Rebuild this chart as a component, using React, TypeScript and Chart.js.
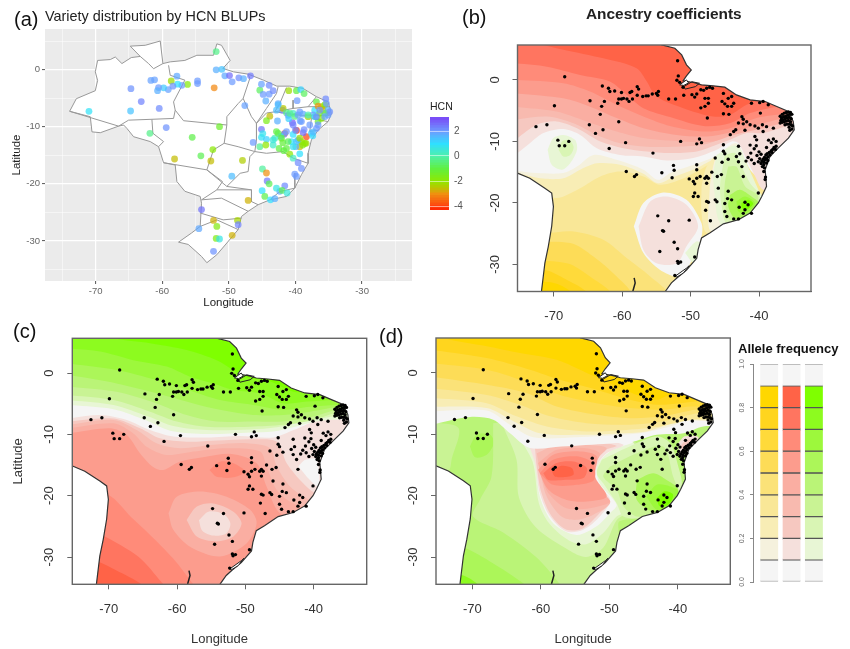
import React, { useEffect, useRef } from "react";
import { Chart, registerables } from "chart.js";
Chart.register(...registerables);

type P = [number, number];

// ---------- palette (contour levels .1-.2 ... .8-.9) ----------
const W = "#F5F5F5";
const Y = ["", "#F5F1DD", "#F8EDB5", "#F9E797", "#FBE278", "#FDDC57", "#FFDA3A", "#FFD51E", "#FFD700"];
const R = ["", "#F5E0DC", "#F6C8C0", "#F8BAAF", "#FAAEA2", "#FC9C8D", "#FF8B79", "#FF7560", "#FF6347"];
const G = ["", "#E8F6D5", "#D9F5B4", "#C9F394", "#BAF477", "#ACF659", "#9DF83C", "#8DFB1F", "#7FFF00"];

// ---------- ticks ----------
const lonTicks = [-70, -60, -50, -40];
const latTicks = [0, -10, -20, -30];
const gridLonTicks = [-75, -70, -65, -60, -55, -50, -45, -40, -35, -30, -25];
const gridLatTicks = [5, 0, -5, -10, -15, -20, -25, -30, -35];
const alleleTicks = [0, 0.2, 0.4, 0.6, 0.8, 1];
const hcnTicks = [-4, -2, 0, 2];

// ---------- map lines (lon, lat) ----------
const eastCoast: P[] = [[-55.5,6.6],[-54.2,5.68],[-52.3,5.14],[-51.3,4.06],[-50.6,2.44],[-49.9,1.62],[-50.6,0.65],[-51.1,-0.16],[-49.6,-0.43],[-48.4,-0.81],[-46.7,-0.97],[-45,-1.19],[-43.3,-2.44],[-41.3,-3.25],[-39.1,-3.52],[-37.4,-4.33],[-35.7,-5.14],[-35,-6.77],[-34.85,-8.12],[-35.7,-9.47],[-37.2,-11.1],[-38.4,-12.45],[-39.1,-14.6],[-38.9,-17.3],[-39.6,-18.95],[-40.1,-20],[-41.3,-21.66],[-43,-22.74],[-45.2,-23.4],[-47.2,-24.9],[-48.4,-25.7],[-48.9,-27.6],[-49.1,-29],[-50.6,-30.9],[-52,-32.2],[-52.8,-33],[-53.7,-34.4],[-54.3,-36],[-28,-36],[-28,8],[-55.5,8],[-55.5,6.6]];
const westCoast: P[] = [[-78,-14],[-75.3,-15.16],[-73.5,-16],[-71.3,-17.6],[-70.3,-18.4],[-70.05,-20.6],[-70.3,-23.8],[-70.8,-27.1],[-71.3,-29.8],[-71.8,-34.4],[-72,-37],[-78,-37],[-78,-14]];
const amazonMouth: P[] = [[-51.6,-0.8],[-50.6,0],[-50.3,-0.5],[-51,-0.9],[-51.6,-0.8]];
const marajo: P[] = [[-51,-1.1],[-49.8,-0.3],[-48.7,-0.55],[-49.3,-1.1],[-50.8,-1.5],[-51,-1.1]];
const patos: P[] = [[-52.3,-31.95],[-50.6,-30.6],[-50.2,-30.2],[-51.05,-31.4],[-52,-32.05],[-52.3,-31.95]];
const uruguayRiver: P[] = [[-58.25,-32.2],[-58.1,-33],[-58.45,-34.4]];

const brazil: P[] = [[-73.9,-7.3],[-72.9,-5.1],[-70.05,-3.7],[-69.7,-1.9],[-70.05,-0.4],[-69.7,1.6],[-67.8,1.75],[-67.05,2.2],[-66.05,1.05],[-64.65,2.1],[-63.3,2.3],[-64.8,4.1],[-62.55,4.25],[-60.3,5],[-59.9,1.05],[-58.8,1.35],[-56.6,1.6],[-54.8,2.5],[-52.3,2.5],[-51.8,4.5],[-51.1,4.25],[-49.8,1.6],[-50.9,0.2],[-49.3,-0.4],[-47.1,-0.8],[-44.8,-1.85],[-42.8,-2.9],[-40.85,-2.9],[-38.85,-3.3],[-36.85,-4.75],[-35.1,-5.65],[-34.6,-7.7],[-35.1,-9.1],[-36.6,-10.6],[-37.6,-12.3],[-38.1,-14.65],[-38.1,-16.4],[-39.1,-18.4],[-40.1,-20.75],[-41.35,-22.2],[-43.85,-22.8],[-45.6,-23.65],[-47.1,-24.8],[-48.1,-25.7],[-48.6,-28],[-50.3,-30.35],[-51.8,-32.4],[-53.3,-33.8],[-54.1,-32.7],[-56.1,-30.6],[-57.55,-30.2],[-55.6,-28.6],[-54.3,-27.45],[-54.1,-23.4],[-54.3,-22.2],[-56.6,-21.3],[-57.8,-19.6],[-58.05,-16.7],[-59.8,-16.3],[-60.55,-13.5],[-61.8,-12.6],[-64.3,-11.75],[-65.3,-10.3],[-65.8,-9.7],[-66.55,-9.9],[-69.3,-11.05],[-70.55,-10.9],[-70.8,-8.25],[-73.9,-7.3]];
const stateLines: P[][] = [
  [[-73.9,-7.3],[-66.55,-9.9]],
  [[-66.55,-9.9],[-65.05,-8.85],[-61.55,-8.7],[-58.3,-8.55],[-58.05,-7.1]],
  [[-61.55,-8.7],[-61.4,-11.15],[-59.8,-12.6],[-60.55,-13.5]],
  [[-58.05,-7.1],[-58.3,-5.65],[-56.6,-1.85],[-58.8,-1],[-59.05,0.75]],
  [[-63.3,2.3],[-62.05,1.05],[-61.3,0.15],[-59.9,1.05]],
  [[-58.05,-7.1],[-56.8,-8.95],[-50.3,-9.7]],
  [[-50.3,-9.7],[-50.3,-8.25],[-48.6,-5.95],[-47.85,-5.05],[-46.85,-1.55],[-47.1,-0.8]],
  [[-50.3,-9.7],[-50.7,-12.9],[-48.6,-13.5],[-46.1,-14.35]],
  [[-47.85,-5.05],[-46.6,-8.25],[-45.85,-9.4],[-45.85,-12.3],[-46.1,-14.35]],
  [[-45.85,-9.4],[-44.35,-6.8],[-42.85,-4.2],[-42.6,-3]],
  [[-41.35,-3.15],[-42.35,-5.95],[-43.1,-7.4],[-44.35,-7.6],[-45.85,-9.4]],
  [[-43.1,-7.4],[-40.35,-6.8],[-38.1,-6.5],[-36.85,-4.75]],
  [[-40.35,-5.35],[-40.35,-6.8]],
  [[-38.1,-6.5],[-34.85,-6.5]],
  [[-43.1,-7.4],[-39.35,-8],[-34.85,-8]],
  [[-37.6,-8.55],[-35.1,-9.1]],
  [[-37.6,-8.55],[-37.85,-10.85],[-36.6,-10.6]],
  [[-46.1,-14.35],[-44.35,-14.65],[-41.85,-14.35],[-40.35,-15.5],[-38.1,-16.4]],
  [[-59.8,-16.3],[-53.3,-17.55],[-52.3,-14.05],[-50.7,-12.9]],
  [[-53.3,-17.55],[-50.3,-20.45],[-48.3,-18.15],[-47.1,-17.85],[-46.85,-15.25],[-46.1,-14.35]],
  [[-53.3,-17.55],[-50.95,-19.6],[-51.8,-21.05],[-54.1,-22.8]],
  [[-51.8,-21.05],[-46.6,-21.05],[-46.6,-23.1],[-45.6,-23.65]],
  [[-50.3,-20.45],[-46.6,-21.05]],
  [[-54.1,-22.8],[-51.1,-22.5],[-47.1,-24.8]],
  [[-54.3,-25.1],[-50.85,-26.3],[-48.1,-26]],
  [[-54.3,-27.45],[-51.8,-26.3],[-48.6,-28]],
  [[-40.1,-18.15],[-40.1,-20.75]],
  [[-43.85,-22.8],[-42.35,-21.35],[-40.1,-20.75]],
];

// ---------- panel (a): lon, lat, HCN BLUP ----------
const hcnPoints: [number, number, number][] = [
[-51.9,3.15,-0.3],[-51.9,-0.05,1.7],[-51.05,0.05,1.4],[-50.6,-1.1,1.8],[-49.9,-1.05,2.6],[-49.5,-2.15,2],[-48.5,-1.45,2.2],[-47.8,-1.6,1.7],[-46.75,-1.1,2.4],[-52.2,-3.2,-3.1],[-54.7,-2,2],[-54.7,-2.45,2],[-56.2,-2.6,-1.8],[-57.05,-2.75,2],[-57.8,-1.15,1.8],[-57.7,-2.55,1],[-58.65,-2,-2.2],[-58.4,-2.9,2.1],[-59.1,-3.5,1.9],[-59.8,-3.2,1.3],[-60.55,-3.15,2],[-60.7,-3.7,1.7],[-61.7,-1.9,1.9],[-61.15,-1.8,1.9],[-64.7,-3.35,2.1],[-63.15,-5.6,2.3],[-64.75,-7.25,1.4],[-60.45,-6.8,2.2],[-71,-7.3,0.9],[-59.4,-10.15,2.1],[-61.85,-11.15,-0.3],[-55.5,-11.85,-0.9],[-51.4,-10,-1.3],[-52.4,-14,-1.9],[-54.2,-15.1,-0.8],[-58.15,-15.65,-2.6],[-52.7,-16,-2.6],[-47.95,-15.9,-2.4],[-49.55,-18.65,1.5],[-47.6,-6.3,1.9],[-45.35,-3.6,-0.7],[-45.1,-2.55,1.9],[-43.95,-2.75,2.2],[-44.85,-4.35,2],[-43.95,-4.3,2],[-43.35,-3.7,2.2],[-44.45,-5.5,1.7],[-41,-3.7,-2.2],[-39.85,-3.7,-1],[-39.2,-3.5,1.2],[-38.7,-4.2,-0.7],[-39.75,-5.45,2],[-42.6,-5.95,1.8],[-41.95,-7.1,2.3],[-42.85,-7.1,1.5],[-41.85,-6.8,-2.5],[-43.85,-8.15,-2.6],[-44.35,-8.95,-1.6],[-42.7,-9,1.7],[-41.35,-7.55,-0.3],[-40.35,-7.65,0.3],[-39.35,-7.4,2],[-38.85,-7.8,1.8],[-40.45,-9.3,2.8],[-41.1,-8,1.9],[-45.1,-10.45,2.5],[-45.1,-11.85,0.9],[-44.35,-12.2,1.2],[-46.35,-12.75,2],[-45.35,-13.5,-0.2],[-44.45,-13.2,-2],[-42.85,-10.85,-1],[-43.1,-12,0.2],[-43.35,-13.2,0.4],[-42.45,-13.8,-1],[-41.75,-14.2,-1],[-41.6,-11.15,-3],[-41.7,-11.3,2.3],[-40.85,-14.8,-1.9],[-40.35,-15.5,0.3],[-39.85,-10.65,-4.2],[-38.35,-11.75,-3.9],[-38.85,-11.05,2.6],[-40.35,-11.35,1],[-40.6,-12.6,1],[-39.1,-12.6,-2],[-39.35,-14.75,1],[-39.35,-13.5,-2.6],[-39.95,-13.5,1.7],[-37.85,-9.7,2],[-36.85,-10.3,2],[-37.6,-11.15,1.2],[-39.6,-16.3,2.2],[-39.1,-17.3,2.1],[-40.1,-18.3,2],[-39.85,-18.7,2],[-41.6,-20.35,2.2],[-42.35,-21.3,1.8],[-44.95,-17.4,-0.1],[-44.35,-18.1,-3],[-44.25,-19.5,2.4],[-43.95,-20,-0.8],[-42.85,-20.75,0.7],[-42,-21.15,-0.8],[-41.25,-21.6,0.6],[-45,-21.2,1],[-44.6,-22.2,-0.9],[-43.75,-22.8,1],[-43.1,-22.6,1.7],[-47.1,-22.9,-2.7],[-54.1,-24.5,2.5],[-52.3,-26.4,-2.7],[-51.8,-27.45,-1.7],[-54.5,-27.85,1.8],[-48.7,-26.4,-2.3],[-48.6,-27.15,2.3],[-49.5,-29,-2.7],[-51.9,-29.55,-1.7],[-51.4,-29.65,0.7],[-52.3,-31.8,2.1],[-36.85,-5.65,-1],[-35.45,-5.15,2.2],[-36.1,-6.5,-2.3],[-35.6,-6.2,-1.7],[-35.1,-7.95,1.9],[-37.1,-7.1,1],[-36.35,-7.65,-1.5],[-37.35,-7.95,2],[-35.85,-7.1,-2.7],[-35.1,-7.1,1.7],[-36.6,-9.1,-1.2],[-38.1,-8.25,-2.3],[-37.1,-8.25,0.7],[-36.1,-8.55,-1.8],[-35.6,-7.65,-0.7],[-36.6,-6.4,-3],[-35.35,-5.95,2],
[-41,-8.6,1.2],[-40.1,-8.2,-0.4],[-39.3,-9,1.8],[-40,-10.6,2.2],[-38.7,-10.5,2.2],[-37.4,-11.6,1.1],[-38.4,-12.9,-2.2],[-39.6,-12.3,1.6],[-38.9,-13.2,-1.7],[-41.9,-12.8,-1.1],[-42.2,-11.7,1.1],[-44.9,-11.2,0.8],
[-42.6,-6.2,1.5],[-40.85,-7.65,-0.2],[-39.6,-7.95,1.9],[-38.1,-7.95,0.2],[-39.1,-9.1,2],[-40.35,-9.7,2.3],[-41.35,-10.85,2],[-42.1,-12,-1.2],[-41.1,-12.6,-0.8],[-39.85,-12.6,1.4],[-38.6,-12.9,-2],[-39.35,-12,-2.2],[-40.35,-13.5,0.8],[-41.35,-13.8,-1],[-43.35,-12.3,0.6],[-42.6,-11.15,-0.9],[-36.6,-9.7,2],[-37.35,-10.9,1.6],[-36.35,-7.1,2],[-36.85,-8.25,2.2],[-35.6,-8.25,1.9],[-34.85,-7.4,2.1],
];
const hcnBarLevels = [-4.32,-4.1,-3.9,-3.7,-3.5,-3.3,-3.1,-2.9,-2.7,-2.5,-2.3,-2.1,-1.9,-1.7,-1.5,-1.3,-1.1,-0.9,-0.7,-0.5,-0.3,-0.1,0.1,0.3,0.5,0.7,0.9,1.1,1.3,1.5,1.7,1.9,2.1,2.3,2.5,2.7,2.9];
const hcnStops: [number, number, number, number][] = [[-4.3,255,32,0],[-4,255,64,16],[-3,240,144,16],[-2.5,184,200,0],[-2,144,232,0],[-1,96,240,64],[0,80,240,168],[1,47,224,255],[2,110,155,255],[3.2,123,63,245]];

// ---------- sampled sites, same in (b), (c), (d) ----------
const sites: P[] = [
[-68.4,0.5],[-69.9,-4.2],[-72.6,-7.6],[-71,-7.3],[-69.4,-9.8],[-69.2,-10.7],[-68.4,-10.7],[-67.8,-10],[-64.7,-3.4],[-64.8,-7.3],[-63.9,-8.7],[-62.9,-1],[-62,-1.35],[-61.8,-1.9],[-61.1,-1.8],[-62.6,-3.5],[-63,-4.3],[-63.2,-5.6],[-62.8,-8.1],[-61.9,-11.15],[-60.5,-6.8],[-60.65,-3.8],[-60.5,-3.1],[-60.1,-3.1],[-59.8,-3],[-59.3,-3.1],[-59,-3.5],[-60.1,-2.05],[-58.85,-2.05],[-58.6,-1.9],[-58.5,-3.1],[-57.8,-1.1],[-57.6,-1.5],[-57.8,-2.5],[-57,-2.7],[-56.5,-2.6],[-56.2,-2.6],[-55.6,-2.3],[-55,-2.2],[-54.7,-1.9],[-54.8,-2.5],[-59.5,-10.2],[-59.4,-14.9],[-58.2,-15.7],[-57.9,-15.4],[-55.5,-11.9],[-54.2,-15.1],[-52.5,-13.9],[-52.4,-14.7],[-52.7,-15.9],[-51.45,-10],[-51.9,3.1],[-51.8,0.65],[-52,-0.05],[-51.6,-0.4],[-51.1,-1.2],[-51,-2.5],[-53.2,-3.1],[-52.2,-3.1],[-49.8,-2.4],[-49.4,-2.8],[-49.1,-2.3],[-48.5,-1.6],[-48.1,-1.7],[-47.65,-1.35],[-47.2,-1.2],[-46.8,-1.35],[-47.9,-3],[-47.4,-3],[-47.4,-3.8],[-47.9,-4.3],[-48.5,-4.55],[-47.55,-6.2],[-45.2,-2.2],[-45.4,-3.5],[-45,-3.9],[-44.6,-4.3],[-44,-4.3],[-43.7,-3.8],[-44.5,-3],[-44,-2.7],[-45.2,-5.5],[-44.4,-5.6],[-41.1,-3.8],[-39.9,-3.7],[-39.4,-3.5],[-38.65,-4.05],[-39.8,-5.4],
[-42.5,-6],[-42.3,-6.4],[-43,-7],[-42.3,-7.15],[-41.8,-6.8],[-41.3,-7.3],[-43.4,-8.1],[-44.2,-8.9],[-43.7,-8.4],[-42.05,-8.2],[-40.6,-7.5],[-40.1,-7.85],[-39.5,-7.3],[-38.9,-7.6],[-37.9,-7.85],[-40.6,-9.2],[-40.35,-9.75],[-39.4,-8.4],[-37.9,-9.6],[-45.2,-10.55],[-48.7,-9.6],[-49.1,-10.4],[-48.4,-10.2],
[-36.9,-5.9],[-36.6,-5.6],[-36.3,-5.4],[-36,-5.3],[-35.7,-5.2],[-35.4,-5.3],[-36.7,-6.2],[-36.4,-6],[-36.1,-5.9],[-35.8,-5.7],[-35.5,-5.6],[-35.2,-5.6],[-36.8,-6.6],[-36.5,-6.5],[-36.2,-6.3],[-35.9,-6.2],[-35.6,-6.1],[-35.3,-6.3],[-36.9,-7],[-36.6,-6.9],[-36.3,-6.8],[-36,-6.7],[-35.7,-6.6],[-35.4,-6.8],[-36.2,-7.3],[-35.9,-7.2],[-35.6,-7.2],[-35.3,-7.3],[-35.1,-7.5],[-35.6,-7.7],[-35.2,-8],[-35.5,-8.2],
[-37.5,-10.8],[-37.8,-11],[-38,-11.3],[-37.6,-11.3],[-38.2,-11.5],[-38.5,-11.8],[-38.1,-11.8],[-38.8,-12],[-38.4,-12.2],[-39,-12.2],[-38.7,-12.5],[-39.2,-12.6],[-38.9,-12.8],[-39.4,-12.9],[-39.1,-13],[-38.7,-13.1],[-39.6,-13.2],[-39.3,-13.4],[-38.9,-13.5],[-39.7,-13.6],[-39.3,-13.8],[-39.5,-14.1],[-39.2,-14.3],[-39.7,-12.1],[-40,-11.7],[-40.3,-12.3],[-39.9,-12.8],[-40.1,-13.3],[-39.3,-14.9],[-39.05,-15.8],[-40.4,-10.7],[-40.7,-11.2],[-41.2,-11.9],[-41.6,-12.6],[-41.1,-13],[-40.7,-13.6],[-41.9,-13.2],[-41.3,-10.6],[-38.6,-9.8],[-38.2,-10.2],[-37.5,-10],[-38.9,-11],
[-45.2,-11.6],[-45,-12],[-44.5,-12.9],[-45.4,-13.4],[-43,-10.8],[-42.8,-12],[-43.3,-12.45],[-43,-13.3],[-42.5,-14.1],[-42.3,-15.7],[-46.4,-12.7],[-49.1,-13.8],[-49.1,-14.6],[-45.5,-15.4],[-46.1,-15.7],[-46.9,-15],[-47.65,-15.7],[-47.9,-16],[-47.4,-16],[-47.65,-16.8],[-48.6,-15.7],[-49.1,-16],[-49.6,-16.5],[-50.2,-16.1],[-49.4,-16.9],[-45.95,-17.6],[-44.5,-18.1],[-44.6,-19.3],[-44,-19.5],[-45,-20.1],[-45,-21.4],[-44.7,-22.2],[-43.7,-22.6],[-43,-22.6],[-42.9,-20.7],[-42.05,-19.9],[-41.6,-20.3],[-42.3,-21.7],[-42.05,-21.1],[-41.1,-21.7],[-40.1,-18.4],[-39.1,-16.2],[-49.4,-18.4],[-49.6,-18.95],[-48.9,-18.95],[-47.65,-19.75],[-47.4,-19.9],[-46.4,-19.5],[-46.15,-19.8],[-47.8,-21.2],[-47.1,-22.9],[-50.2,-22.8],[-54.8,-22.1],[-53.2,-22.9],[-54.1,-24.5],[-53.95,-24.6],[-52.4,-26.4],[-51.9,-27.45],[-54.5,-27.9],[-51.9,-29.5],[-51.8,-29.8],[-51.45,-29.6],[-52.3,-31.8],[-49.4,-28.8],
];

// ---------- allele-frequency legend ----------
const alleleEdges = [0, 0.1, 0.2, 0.3, 0.4, 0.5, 0.6, 0.7, 0.8, 0.9, 1];
const alleleColumns = [1, 2, 3];

// ---------- contour helpers ----------
const closeTop = (l: P[]): P[] => [...l, [-25, 12], [-82, 12]];
const closeBottom = (l: P[]): P[] => { const e = l[l.length - 1]; return [...l, [e[0], -42], [-82, -42]]; };
const fullBox: P[] = [[-82, 12], [-25, 12], [-25, -42], [-82, -42]];

// ---------- contour bands, panel (b) ----------
const bandsB: [string, P[]][] = [
  [Y[3], fullBox],
  [Y[2], closeTop([[-75.9,-15.7],[-72.5,-17.85],[-69.6,-19.2],[-66.15,-17.6],[-63.2,-15.7],[-60.3,-14.9],[-56.9,-15.7],[-54.5,-17.05],[-51.55,-16.25],[-48.6,-14.6],[-45.7,-13],[-30,-13]])],
  [Y[1], closeTop([[-75.9,-14.9],[-72,-16],[-68.6,-16],[-66.15,-14.6],[-63.7,-13.55],[-60.3,-13.8],[-56.9,-15.25],[-54.75,-16.8],[-52.5,-15.8],[-49.1,-14.35],[-46.2,-12.9],[-30,-13]])],
  [Y[2], [[-48.4,-17.3],[-47.65,-14.1],[-46.2,-12.45],[-45.2,-17.3],[-44.7,-23.8],[-47.65,-24.9],[-48.4,-21.65]]],
  [Y[1], [[-47.2,-17.3],[-46.45,-13],[-45.7,-12.45],[-45.2,-17.3],[-44.7,-23.8],[-47.2,-24.4]]],
  [Y[4], closeBottom([[-75.9,-24.4],[-71.5,-24.9],[-67.1,-24.65],[-62.75,-26],[-59.3,-29],[-55.9,-31.95],[-53,-35.2]])],
  [Y[5], closeBottom([[-75.9,-26.5],[-67.6,-26.5],[-64.2,-28.7],[-60.8,-31.95],[-58.4,-35.2]])],
  [Y[6], closeBottom([[-75.9,-29.25],[-68.1,-29.8],[-64.7,-31.95],[-61.3,-35.2]])],
  [Y[7], closeBottom([[-75.9,-31.4],[-71.5,-30.85],[-68.6,-32.2],[-64.7,-35.2]])],
  [Y[8], closeBottom([[-75.9,-33],[-70,-33],[-67,-35.2]])],
  [W, closeTop([[-75.9,-14.75],[-72.5,-15.15],[-68.6,-15.15],[-66.6,-14.1],[-64.2,-12.2],[-60.8,-13],[-56.9,-14.6],[-54.75,-16.25],[-52.8,-15.05],[-49.1,-13.65],[-46.2,-12.35],[-43.3,-10.3],[-41,-15],[-30,-25]])],
  [R[1], closeTop([[-75.9,-12.45],[-73.5,-10.3],[-71.5,-8.65],[-68.6,-8],[-66.15,-8.95],[-63.7,-11.1],[-60.3,-12.2],[-56.9,-12.45],[-53.5,-13.1],[-49.6,-12.7],[-46.2,-11.35],[-44,-10],[-43,-10.3],[-42,-12.45],[-40.55,-15.7],[-39.4,-17.85],[-34.5,-19.5],[-29.6,-3]])],
  [R[2], closeTop([[-75.9,-10],[-72.5,-7.3],[-69.6,-6.75],[-66.6,-7.85],[-63.2,-10],[-59.8,-11.1],[-56.4,-11.65],[-53,-11.9],[-49.1,-11.65],[-46.2,-10.55],[-44.25,-9.75],[-41.8,-8.65],[-39.4,-8.65],[-34.5,-7],[-29.6,-6]])],
  [R[3], closeTop([[-75.9,-6.5],[-71,-5.95],[-67.1,-7.05],[-63.7,-8.95],[-60.3,-10.3],[-56.4,-10.85],[-52,-10.85],[-48.15,-10.55],[-45.2,-9.45],[-41.3,-8.1],[-36.95,-7.05],[-29.6,-6]])],
  [R[4], closeTop([[-75.9,-4.35],[-69.6,-5.15],[-65.2,-6.75],[-60.8,-8.4],[-56.9,-9.45],[-51.05,-10],[-46.7,-10],[-43.75,-8.95],[-39.4,-7.85],[-34.5,-6.5],[-29.6,-5.5]])],
  [R[5], closeTop([[-75.9,-2.15],[-68.6,-3],[-64.7,-4.35],[-60.8,-6.2],[-56.9,-7.85],[-52,-8.95],[-47.65,-9.2],[-44.25,-8.55],[-39.4,-7.05],[-34.5,-5.7],[-29.6,-5]])],
  [R[6], closeTop([[-75.9,0],[-68.6,-0.55],[-64.7,-1.9],[-60.8,-4.05],[-56.9,-5.95],[-53,-7.5],[-48.15,-8.4],[-44.25,-7.85],[-40.35,-6.2],[-35.7,-5.4],[-29.6,-4]])],
  [R[7], closeTop([[-75.9,2.7],[-71,2.15],[-66.15,0.8],[-61.8,-0.25],[-59.3,-2.45],[-56.9,-4.6],[-53,-6.05],[-48.15,-7.5],[-44.25,-7.05],[-41.3,-5.4],[-37.4,-4.35],[-29.6,-3]])],
  [R[8], closeTop([[-73,6.06],[-68.6,4.9],[-62.75,3.5],[-57.9,1.9],[-56.4,-0.25],[-55,-2.7],[-51.05,-4.6],[-46.7,-5.95],[-44.25,-5.7],[-41.8,-4.05],[-38.9,-3],[-29.6,-1]])],
  [W, [[-58.3,-23.8],[-56.9,-20],[-54,-18.3],[-50.6,-19.5],[-48.4,-23.3],[-48.4,-25.45],[-49.6,-28.7],[-50.6,-30.85],[-52,-31.95],[-54.5,-30.85],[-56.9,-28.15]]],
  [R[1], [[-57.6,-23.8],[-55.9,-19.75],[-53.5,-18.95],[-50.6,-20.3],[-48.9,-23.8],[-50.6,-27.05],[-52,-29.8],[-55,-29.8],[-56.9,-27.6]]],
  [G[1], [[-50.8,-28.15],[-49.1,-26.25],[-48.15,-27.05],[-48.6,-29.8],[-49.6,-29.8]]],
  [G[1], [[-70.9,-11.35],[-70.05,-9.45],[-68.6,-8.95],[-66.9,-9.75],[-66.6,-11.35],[-67.6,-13.55],[-68.8,-14.6],[-70.3,-13.8]]],
  [G[2], [[-69.3,-11.35],[-68.8,-10],[-67.85,-9.75],[-67.1,-10.85],[-67.6,-12.2],[-68.6,-12.45]]],
  [G[1], [[-46.2,-12.2],[-44.25,-10.85],[-43,-10.85],[-42.05,-13],[-40.1,-17.85],[-39.4,-19.5],[-40.85,-22.75],[-45.2,-23.8],[-46.1,-22.2],[-46.45,-18.95],[-46.7,-15.7]]],
  [G[2], [[-45,-12.2],[-43.5,-11.9],[-42.55,-14.1],[-41.3,-16.8],[-39.85,-18.95],[-41.3,-22.2],[-44.7,-23.3],[-45.45,-20.55],[-45.7,-17.3]]],
  [G[3], [[-44.5,-14.1],[-43.3,-14.1],[-42.05,-17.3],[-40.1,-18.95],[-41.3,-21.9],[-44.25,-22.75],[-45,-20],[-45,-16.8]]],
  [G[5], [[-44.25,-18.7],[-42.8,-17.85],[-41.1,-18.95],[-40.1,-20],[-41.55,-21.9],[-43.5,-22.5],[-44.5,-20.55]]],
  [G[6], [[-43.3,-19.75],[-42.05,-18.95],[-40.6,-20],[-41.8,-21.65],[-43,-21.4]]],
  [G[8], [[-42.55,-20],[-41.55,-19.5],[-40.85,-20.15],[-41.8,-21.1],[-42.55,-20.8]]],
];

// ---------- contour bands, panel (c) ----------
const bandsC: [string, P[]][] = [
  [R[5], fullBox],
  [R[6], closeBottom([[-76,-18],[-70,-19.9],[-66.7,-23.5],[-64.2,-26.1],[-60.5,-30.3],[-57.8,-34.2],[-56,-37]])],
  [R[7], closeBottom([[-76,-24],[-71,-26.4],[-65.6,-30],[-62.2,-34.2],[-60,-37]])],
  [R[8], closeBottom([[-76,-29],[-71.4,-30.8],[-69,-32.1],[-65.1,-34.5],[-63,-37]])],
  [R[4], [[-61.25,-22.85],[-60.05,-20.15],[-56.65,-19.3],[-52.75,-20.15],[-49.3,-22.3],[-48.35,-24.5],[-49.8,-27.75],[-53.7,-29.9],[-58.1,-28.3],[-60.55,-25.55]]],
  [R[2], [[-58.6,-23.95],[-57.1,-21.75],[-54.7,-21.25],[-51.75,-22.6],[-50.55,-24.5],[-51.75,-26.65],[-54.2,-27.45],[-57.1,-26.65]]],
  [R[1], [[-56.8,-24],[-55.4,-22.6],[-53.2,-23],[-52.2,-24.5],[-52.75,-26.1],[-54.7,-26.5],[-56.3,-25.7]]],
  [R[6], [[-55.25,-15.8],[-53.7,-14.45],[-51.75,-14.7],[-50.05,-16.05],[-51.75,-17],[-54.2,-16.9]]],
  [R[4], closeTop([[-76,-9.85],[-69.8,-9],[-67.35,-10.1],[-65.4,-13.1],[-63.5,-15.3],[-62,-15.8],[-59.7,-14.5],[-56,-13.7],[-52,-13.2],[-48.35,-14.7],[-46.9,-18.5],[-45.4,-22.3],[-43.95,-23.4],[-37.1,-24],[-30,-24]])],
  [R[3], closeTop([[-76,-9],[-69.3,-8.2],[-66.4,-9.85],[-64.45,-12],[-61.5,-13.35],[-57.6,-12.8],[-52.75,-12.25],[-47.85,-12.8],[-46.9,-15.25],[-45.4,-19.05],[-42.95,-21.25],[-37.1,-22.85],[-30,-23]])],
  [R[2], closeTop([[-76,-8.45],[-69.3,-7.65],[-65.9,-9.3],[-63,-11.45],[-59.55,-12.25],[-54.7,-11.7],[-49.8,-11.45],[-46.4,-12.25],[-45.4,-15.25],[-43.45,-18.5],[-40.55,-20.7],[-37.1,-21.75],[-30,-22]])],
  [R[1], closeTop([[-76,-7.9],[-69.3,-7.4],[-65.4,-9],[-62.5,-10.65],[-58.6,-11.2],[-54.2,-11],[-48.85,-10.8],[-45.4,-11.2],[-43.95,-14.7],[-41.5,-18],[-39.55,-19.6],[-37.1,-18.5],[-30,-18]])],
  [W, [[-42.25,-15.25],[-41.25,-14.15],[-39.55,-14.15],[-39.3,-18.5],[-40.55,-17.45]]],
  [W, closeTop([[-76,-7.4],[-71.25,-6.85],[-67.35,-7.65],[-63.95,-9.3],[-60.55,-10.35],[-55.65,-10.5],[-50.8,-10.25],[-45.9,-10.5],[-42.95,-9.3],[-39.05,-7.65],[-34.7,-7.65],[-30,-7.5]])],
  [G[1], closeTop([[-76,-5.2],[-69.3,-5.9],[-64.45,-7.75],[-61,-9.4],[-55.65,-9.95],[-49.3,-9.7],[-45.9,-9.55],[-39.55,-7.9],[-35.15,-7.4],[-30,-7]])],
  [G[2], closeTop([[-76,-4.4],[-69.3,-5.2],[-64.2,-7.1],[-60.55,-8.65],[-55.65,-9.3],[-49.3,-9.2],[-45.4,-8.85],[-39.8,-7.55],[-35.15,-6.85],[-30,-6.5]])],
  [G[3], closeTop([[-76,-3.6],[-69.3,-4.4],[-63.95,-6.3],[-60.05,-7.9],[-55.65,-8.75],[-49.3,-8.75],[-44.45,-8.45],[-40.05,-7.65],[-35.15,-6],[-30,-6]])],
  [G[4], closeTop([[-76,-2.2],[-68.85,-3.05],[-63,-4.95],[-58.6,-6.85],[-54.2,-7.9],[-48.85,-7.9],[-44.45,-7.9],[-40.05,-7.1],[-35.65,-5.75],[-30,-6]])],
  [G[5], closeTop([[-76,-0.3],[-68.85,-1.7],[-63,-3.3],[-57.6,-4.95],[-53.7,-6],[-48.85,-6.85],[-44.45,-6.85],[-40.55,-6.3],[-36.15,-5.5],[-30,-5.5]])],
  [G[6], closeTop([[-76,1.55],[-68.85,0.5],[-63,-1.15],[-57.6,-3.05],[-53.7,-4.4],[-48.85,-5.2],[-44.45,-6],[-40.55,-5.5],[-36.65,-5.2],[-30,-5]])],
  [G[7], closeTop([[-76,4],[-71.25,3.5],[-66.4,2.1],[-61.5,1.05],[-58.1,-0.6],[-54.7,-1.7],[-51.75,-2.75],[-47.85,-3.3],[-44.45,-4.95],[-41,-4.65],[-37.1,-4.4],[-30,-4]])],
  [G[8], closeTop([[-72,7],[-69.3,5.65],[-63.95,4.85],[-58.6,3.75],[-54.2,2.1],[-51.75,0.5],[-49.55,-0.85],[-46.9,-1.15],[-42.95,-3.05],[-39.05,-3.05],[-37.1,-3.85],[-30,-3]])],
];

// ---------- contour bands, panel (d) ----------
const bandsD: [string, P[]][] = [
  [G[4], fullBox],
  [G[3], [[-76,-8],[-72,-9],[-73,-14],[-73.5,-16],[-76,-16]]],
  [G[5], [[-70.35,-12],[-69.35,-10.1],[-67.4,-10.1],[-66.85,-11.45],[-67.9,-13.35],[-69.6,-13.75]]],
  [G[5], closeBottom([[-76,-27.5],[-71.2,-28.5],[-67,-31],[-63.2,-33.8],[-61,-36]])],
  [G[7], closeBottom([[-76,-32],[-71.3,-33],[-69,-34.6],[-67,-37]])],
  [G[3], [[-66.95,-8.2],[-67.2,-16.9],[-68.9,-20.7],[-69.9,-23.4],[-65.5,-26],[-60.7,-30],[-57.3,-34.3],[-55,-38],[-47,-38],[-48.7,-24.5],[-46,-23.4],[-45.55,-18.5],[-46,-11.45],[-60.6,-7.65]]],
  [G[2], [[-65.5,-8.75],[-63.55,-14.15],[-63.2,-20.3],[-60.7,-25.2],[-55.9,-28.9],[-53.4,-30],[-50.9,-28.5],[-48.95,-24],[-47,-22.3],[-47.5,-18.5],[-46.5,-11.45],[-60.6,-7.65]]],
  [G[1], [[-63.5,-10],[-61.2,-14.5],[-60.3,-21.2],[-58.8,-24.5],[-55.9,-27.3],[-53.4,-27.9],[-50.9,-26.1],[-48.95,-23.4],[-47,-22.3],[-47.5,-18.5],[-46.5,-11.45]]],
  [G[2], [[-51.1,-14.15],[-46.5,-11.7],[-43.1,-10.35],[-41.15,-11.45],[-39.95,-15.25],[-39.45,-18.5],[-41.15,-22.3],[-45.05,-23.65],[-47.95,-23.4],[-48.95,-21.25],[-50.9,-18],[-51.85,-16.35]]],
  [G[3], [[-49.9,-15.25],[-46,-13.1],[-42.15,-12],[-40.7,-16.9],[-40.2,-19.05],[-42.15,-22.6],[-46,-23.4],[-47.95,-21.75],[-48.95,-19.05],[-50.9,-16.9]]],
  [G[5], [[-46,-17.45],[-43.6,-16.35],[-41.65,-17.45],[-39.95,-19.05],[-41.15,-22.05],[-43.6,-22.6],[-46,-20.7]]],
  [G[6], [[-44.6,-20.15],[-43.1,-18.25],[-41.15,-18.5],[-39.95,-19.3],[-41.15,-21.75],[-43.1,-22.3]]],
  [G[8], [[-43.1,-20.4],[-41.9,-19.3],[-40.7,-19.85],[-41.4,-21.5],[-42.65,-21.75]]],
  [W, [[-63.55,-10.35],[-61.1,-13.1],[-60.15,-20.15],[-58.2,-24.5],[-54.8,-26.4],[-51.85,-25],[-49.9,-22.85],[-48.95,-21.5],[-51.4,-18],[-51.85,-15.25],[-49.9,-12.8],[-46.5,-11.2],[-55.5,-10.35]]],
  [R[1], [[-61.6,-12.25],[-57.7,-11.2],[-53.3,-10.9],[-47.95,-11.7],[-50.4,-13.1],[-51.85,-15.25],[-51.85,-18],[-49.9,-20.7],[-51.4,-23.4],[-53.8,-25.55],[-56.25,-25.85],[-58.65,-23.4],[-60.15,-19.6],[-60.85,-14.7]]],
  [R[2], [[-60.85,-12.3],[-57.2,-11.35],[-53.3,-11.2],[-48.95,-11.9],[-50.9,-12.8],[-52.1,-15.25],[-51.85,-18.5],[-49.9,-20.95],[-51.4,-22.85],[-53.8,-25.3],[-56.25,-25.55],[-58.4,-23.4],[-59.9,-19.6],[-60.6,-15.25]]],
  [R[3], [[-60.6,-13.1],[-57.2,-11.55],[-53.3,-11.7],[-50.4,-12.25],[-51.85,-14.15],[-52.25,-16.9],[-50.9,-19.6],[-49.9,-21.25],[-52.35,-23.1],[-54.8,-23.95],[-57,-23.4],[-59.15,-20.15],[-60.15,-15.8]]],
  [R[4], [[-60.4,-14.7],[-57.7,-12.55],[-53.8,-12.25],[-51.4,-13.1],[-52.25,-15.25],[-52.1,-18],[-50.4,-20.15],[-49.9,-21.1],[-52.85,-22.05],[-56.25,-22.05],[-58.9,-19.6],[-59.9,-16.9]]],
  [R[5], [[-60.4,-15.8],[-58.2,-13.35],[-54.3,-12.8],[-51.85,-13.6],[-52.1,-16.9],[-50.4,-20.15],[-53.3,-20.95],[-56.25,-20.7],[-58.9,-19.05]]],
  [R[6], [[-60.15,-16.35],[-58.2,-14.15],[-54.8,-13.6],[-52.45,-14.7],[-52.25,-17.45],[-54.8,-18.25],[-58.2,-18.25]]],
  [R[7], [[-59.65,-16.35],[-57.7,-14.7],[-55.25,-14.45],[-53.3,-15.5],[-53.8,-17.15],[-56.75,-17.45],[-58.9,-17.45]]],
  [R[8], [[-58.4,-16.05],[-57,-15.15],[-55.5,-15.5],[-55.25,-16.6],[-56.75,-17],[-57.95,-16.9]]],
  [W, closeTop([[-76,-8.45],[-70.35,-7.2],[-66.95,-7.65],[-64.5,-9.85],[-61.6,-12.25],[-57,-12],[-50,-11.5],[-46.5,-11.2],[-43.1,-10.1],[-39.2,-9.85],[-36.3,-8.75],[-30,-8]])],
  [Y[1], closeTop([[-76,-6.3],[-67.9,-6.15],[-64.5,-8.45],[-61.1,-10.5],[-54.8,-10.5],[-48.45,-10.1],[-45.5,-9.85],[-41.15,-8.75],[-38.25,-7.65],[-30,-7]])],
  [Y[2], closeTop([[-76,-5.5],[-67.9,-5.75],[-64,-7.9],[-60.15,-9.85],[-53.8,-10.1],[-47.95,-9.85],[-44.6,-9.55],[-39.7,-7.9],[-30,-6.5]])],
  [Y[3], closeTop([[-76,-4.1],[-67.9,-4.95],[-63.55,-7.1],[-59.15,-8.75],[-53.3,-9.55],[-47.5,-9.3],[-42.65,-8.75],[-38.25,-7.65],[-30,-6.5]])],
  [Y[4], closeTop([[-76,-2.5],[-67.9,-3.6],[-63.05,-5.2],[-58.65,-7.1],[-53.3,-8.2],[-47,-8.45],[-42.15,-7.9],[-37,-6.55],[-30,-6]])],
  [Y[5], closeTop([[-76,-0.6],[-67.9,-1.95],[-62.1,-3.3],[-57.7,-5.5],[-51.85,-6.85],[-47,-7.4],[-42.15,-7.1],[-37.25,-6],[-30,-5.5]])],
  [Y[6], closeTop([[-76,1.55],[-67.9,0.5],[-61.6,-1.7],[-57.2,-3.6],[-51.85,-4.95],[-47,-5.75],[-42.15,-6],[-38.25,-5.5],[-30,-5]])],
  [Y[7], closeTop([[-76,3.75],[-67.9,2.4],[-61.6,0.5],[-57.2,-1.15],[-51.85,-2.75],[-47,-4.4],[-43.1,-5.2],[-39.7,-4.95],[-36.8,-4.65],[-30,-4.5]])],
  [Y[8], closeTop([[-76,7],[-74.25,5.65],[-67.9,4.3],[-63.05,3.2],[-57.7,2.1],[-53.3,-0.05],[-49.9,-1.7],[-46,-3.6],[-43.1,-4.4],[-41.15,-3.6],[-37.25,-4.4],[-30,-4]])],
  [R[1], [[-39.95,-11.45],[-39,-10.35],[-37,-10.5],[-38.5,-12.8],[-39.7,-13.6]]],
  [R[2], [[-39.7,-12],[-38.75,-10.9],[-37.75,-11.2],[-39,-12.8]]],
];

// ---------- builders ----------
const FONT = "'Liberation Sans', Arial, sans-serif";
const xy = (pts: P[]) => pts.map(([x, y]) => ({ x, y }));
const noChrome = {
  responsive: false, animation: false as const, events: [] as string[],
  plugins: { legend: { display: false }, tooltip: { enabled: false }, title: { display: false }, filler: { drawTime: "beforeDatasetDraw" } },
};
function band(color: string, pts: P[], tension = 0.3) {
  return { type: "scatter", data: xy([...pts, pts[0]]), showLine: true, fill: "shape", backgroundColor: color, borderWidth: 0, borderColor: "transparent", pointRadius: 0, tension, capBezierPoints: false };
}
function line(pts: P[], color: string, width: number, fillColor?: string) {
  return { type: "scatter", data: xy(pts), showLine: true, fill: fillColor ? "shape" : false, backgroundColor: fillColor || "transparent", borderColor: color, borderWidth: width, pointRadius: 0, tension: 0 };
}
function ordered(ds: any[]) { return ds.map((d, i) => ({ ...d, order: ds.length - i })); }

function hcnColor(v: number, a: number) {
  let s = hcnStops[0];
  let e = hcnStops[hcnStops.length - 1];
  for (let i = 0; i < hcnStops.length - 1; i++) if (v >= hcnStops[i][0] && v <= hcnStops[i + 1][0]) { s = hcnStops[i]; e = hcnStops[i + 1]; break; }
  const t = e[0] === s[0] ? 0 : Math.min(1, Math.max(0, (v - s[0]) / (e[0] - s[0])));
  const c = [1, 2, 3].map((k) => Math.round(s[k] + (e[k] - s[k]) * t));
  return `rgba(${c[0]},${c[1]},${c[2]},${a})`;
}

const setTicks = (vals: number[]) => (s: any) => { s.ticks = vals.map((value) => ({ value })); };
const boxPlugin = (color: string) => ({
  id: "box",
  afterDatasetsDraw(c: any) {
    const { left, top, width, height } = c.chartArea;
    c.ctx.save(); c.ctx.strokeStyle = color; c.ctx.lineWidth = 1.4; c.ctx.strokeRect(left, top, width, height); c.ctx.restore();
  },
});
const panelBg = {
  id: "bg",
  beforeDraw(c: any) {
    const { left, top, width, height } = c.chartArea;
    c.ctx.save(); c.ctx.fillStyle = "#EBEBEB"; c.ctx.fillRect(left, top, width, height); c.ctx.restore();
  },
};

type Rect = { l: number; t: number; r: number; b: number };
type Plot = { l: number; t: number; r: number; b: number };
const dims = (rect: Rect, plot: Plot) => ({
  padding: { top: plot.t - rect.t, right: rect.r - plot.r, left: 0, bottom: 0 },
  yw: plot.l - rect.l,
  xh: rect.b - plot.b,
});

function contourConfig(bands: [string, P[]][], rect: Rect, plot: Plot, dom: { x0: number; x1: number; y0: number; y1: number }, showLat: boolean, showLon: boolean) {
  const d = dims(rect, plot);
  const tickFont = { family: FONT, size: 13 };
  const axisGrid = { drawOnChartArea: false, drawTicks: true, tickLength: 5, color: "#666", lineWidth: 1 };
  const datasets = ordered([
    ...bands.map(([c, p]) => band(c, p)),
    line(westCoast, "#333", 1.2, "#fff"),
    line(eastCoast, "#333", 1.2, "#fff"),
    line(marajo, "#222", 1),
    line(amazonMouth, "#222", 1, "#fff"),
    line(patos, "#222", 1, "#fff"),
    line(uruguayRiver, "#222", 1.5),
    { type: "scatter", data: xy(sites), pointRadius: 1.7, pointBackgroundColor: "#000", pointBorderWidth: 0, showLine: false, clip: false },
  ]);
  return {
    type: "scatter",
    data: { datasets },
    plugins: [boxPlugin("#666")],
    options: {
      ...noChrome,
      layout: { padding: d.padding },
      scales: {
        x: {
          type: "linear", min: dom.x0, max: dom.x1, afterBuildTicks: setTicks(lonTicks),
          afterFit: (s: any) => { s.height = d.xh; },
          grid: axisGrid, border: { display: true, color: "#666" },
          ticks: { autoSkip: false, maxRotation: 0, padding: 12, font: tickFont, color: "#333", callback: (v: number) => String(v) },
          title: { display: showLon, text: "Longitude", color: "#333", font: { family: FONT, size: 13 }, padding: 0 },
        },
        y: {
          type: "linear", min: dom.y0, max: dom.y1, afterBuildTicks: setTicks(latTicks),
          afterFit: (s: any) => { s.width = d.yw; },
          grid: axisGrid, border: { display: true, color: "#666" },
          ticks: { autoSkip: false, minRotation: 90, maxRotation: 90, crossAlign: "center", padding: 8, font: tickFont, color: "#333", callback: (v: number) => String(v) },
          title: { display: showLat, text: "Latitude", color: "#333", font: { family: FONT, size: 13 }, padding: 0 },
        },
      },
    },
  };
}

function mapConfig(rect: Rect, plot: Plot) {
  const d = dims(rect, plot);
  const isMajor = (c: any) => c.tick && Number(c.tick.value) % 10 === 0;
  const grid = {
    color: "#fff", drawTicks: true, tickLength: 3,
    lineWidth: (c: any) => (isMajor(c) ? 1.2 : 0.5),
    tickColor: (c: any) => (isMajor(c) ? "#555" : "transparent"),
    tickWidth: 1,
  };
  const tickFont = { family: FONT, size: 9.5 };
  const lab = (v: number) => (v % 10 === 0 ? String(v) : "");
  const datasets = ordered([
    line(brazil, "#999", 1, "#fff"),
    ...stateLines.map((s) => line(s, "#999", 1)),
    {
      type: "scatter", data: hcnPoints.map(([x, y]) => ({ x, y })),
      pointRadius: 3.4, pointBorderWidth: 0, showLine: false,
      pointBackgroundColor: hcnPoints.map((p) => hcnColor(p[2], 0.72)),
    },
  ]);
  return {
    type: "scatter",
    data: { datasets },
    plugins: [panelBg],
    options: {
      ...noChrome,
      layout: { padding: d.padding },
      scales: {
        x: {
          type: "linear", min: -77.6, max: -22.5, afterBuildTicks: setTicks(gridLonTicks),
          afterFit: (s: any) => { s.height = d.xh; },
          grid, border: { display: false },
          ticks: { autoSkip: false, maxRotation: 0, padding: 2, font: tickFont, color: "#666", callback: lab },
          title: { display: true, text: "Longitude", color: "#222", font: { family: FONT, size: 11.5 }, padding: 0 },
        },
        y: {
          type: "linear", min: -37, max: 7.1, afterBuildTicks: setTicks(gridLatTicks),
          afterFit: (s: any) => { s.width = d.yw; },
          grid, border: { display: false },
          ticks: { autoSkip: false, padding: 2, font: tickFont, color: "#666", callback: lab },
          title: { display: true, text: "Latitude", color: "#222", font: { family: FONT, size: 11.5 }, padding: 0 },
        },
      },
    },
  };
}

function hcnBarConfig(rect: Rect, plot: Plot) {
  return {
    type: "bar",
    data: {
      datasets: [{
        data: hcnBarLevels.map((v) => ({ x: 0.5, y: [v, v + 0.22] })),
        backgroundColor: hcnBarLevels.map((v) => hcnColor(v + 0.1, 1)),
        barThickness: plot.r - plot.l, borderWidth: 0,
      }],
    },
    options: {
      ...noChrome,
      layout: { padding: { top: plot.t - rect.t, left: plot.l - rect.l, right: 0, bottom: rect.b - plot.b } },
      scales: {
        x: { type: "linear", display: false, min: 0, max: 1, offset: false },
        y: {
          type: "linear", position: "right", min: -4.32, max: 3.12, afterBuildTicks: setTicks(hcnTicks),
          afterFit: (s: any) => { s.width = rect.r - plot.r; },
          grid: { color: "rgba(255,255,255,0.75)", z: 1, drawTicks: false, lineWidth: 0.7 }, border: { display: false },
          ticks: { autoSkip: false, padding: 5, font: { family: FONT, size: 10 }, color: "#555", callback: (v: number) => String(v) },
        },
      },
    },
  };
}

function alleleConfig(rect: Rect, plot: Plot) {
  const d = dims(rect, plot);
  const ramps = [Y, R, G];
  const rowColor = (col: number, row: number) => (row === 0 || row === 9 ? W : ramps[col][row]);
  const datasets = alleleColumns.map((x, col) => ({
    data: alleleEdges.slice(0, -1).map((lo, i) => ({ x, y: [lo, alleleEdges[i + 1]] })),
    backgroundColor: alleleEdges.slice(0, -1).map((_, i) => rowColor(col, i)),
    borderColor: alleleEdges.slice(0, -1).map((_, i) => (i === 0 || i === 9 ? "#AAA" : "#555")),
    borderWidth: { top: 1, bottom: 1, left: 0, right: 0 }, borderSkipped: false,
    barThickness: 18, grouped: false,
  }));
  return {
    type: "bar",
    data: { datasets },
    options: {
      ...noChrome,
      layout: { padding: { ...d.padding, bottom: rect.b - plot.b } },
      scales: {
        x: { type: "linear", display: false, min: 0.27, max: 3.5, offset: false },
        y: {
          type: "linear", min: 0, max: 1, afterBuildTicks: setTicks(alleleTicks),
          afterFit: (s: any) => { s.width = d.yw; },
          grid: { drawOnChartArea: false, drawTicks: true, tickLength: 3, color: "#888" }, border: { display: true, color: "#888" },
          ticks: { autoSkip: false, minRotation: 90, maxRotation: 90, crossAlign: "center", padding: 3, font: { family: FONT, size: 7 }, color: "#666", callback: (v: number) => v.toFixed(1) },
        },
      },
    },
  };
}

// ---------- layout ----------
const RECTS = {
  a: { rect: { l: 10, t: 20, r: 420, b: 310 }, plot: { l: 45, t: 29, r: 412, b: 281 } },
  b: { rect: { l: 480, t: 25, r: 820, b: 330 }, plot: { l: 517.5, t: 45, r: 811, b: 291.5 } },
  c: { rect: { l: 11, t: 318, r: 375, b: 647 }, plot: { l: 72.3, t: 338.3, r: 366.7, b: 584.3 } },
  d: { rect: { l: 400, t: 318, r: 735, b: 647 }, plot: { l: 436, t: 338, r: 730.3, b: 584.3 } },
  hcn: { rect: { l: 425, t: 105, r: 475, b: 222 }, plot: { l: 430, t: 117, r: 449, b: 210 } },
  al: { rect: { l: 725, t: 350, r: 835, b: 600 }, plot: { l: 753, t: 364, r: 825, b: 582 } },
};
const DOM_B = { x0: -75.3, x1: -32.4, y0: -34.4, y1: 5.67 };
const DOM_C = { x0: -75.33, x1: -32.24, y0: -34.44, y1: 5.66 };
const DOM_D = { x0: -75.3, x1: -32.36, y0: -34.44, y1: 5.66 };

const CONFIGS: [Rect, any][] = [
  [RECTS.a.rect, mapConfig(RECTS.a.rect, RECTS.a.plot)],
  [RECTS.b.rect, contourConfig(bandsB, RECTS.b.rect, RECTS.b.plot, DOM_B, false, false)],
  [RECTS.c.rect, contourConfig(bandsC, RECTS.c.rect, RECTS.c.plot, DOM_C, true, true)],
  [RECTS.d.rect, contourConfig(bandsD, RECTS.d.rect, RECTS.d.plot, DOM_D, false, true)],
  [RECTS.hcn.rect, hcnBarConfig(RECTS.hcn.rect, RECTS.hcn.plot)],
  [RECTS.al.rect, alleleConfig(RECTS.al.rect, RECTS.al.plot)],
];

const TEXTS: { t: string; x: number; y: number; size: number; bold?: boolean; color?: string }[] = [
  { t: "(a)", x: 14, y: 19, size: 20 },
  { t: "Variety distribution by HCN BLUPs", x: 45, y: 16, size: 14.4, color: "#222" },
  { t: "(b)", x: 462, y: 17, size: 20 },
  { t: "Ancestry coefficients", x: 586, y: 14, size: 15.4, bold: true, color: "#222" },
  { t: "(c)", x: 13, y: 331, size: 20 },
  { t: "(d)", x: 379, y: 336, size: 20 },
  { t: "HCN", x: 430, y: 106, size: 10.5, color: "#222" },
  { t: "Allele frequency", x: 738, y: 348, size: 13, bold: true },
];

function Panel({ rect, config }: { rect: Rect; config: any }) {
  const ref = useRef<HTMLCanvasElement | null>(null);
  useEffect(() => {
    const chart = new Chart(ref.current as HTMLCanvasElement, config);
    return () => chart.destroy();
  }, [config]);
  const w = rect.r - rect.l;
  const h = rect.b - rect.t;
  return <canvas ref={ref} width={w} height={h} style={{ position: "absolute", left: rect.l, top: rect.t, width: w, height: h }} />;
}

export default function App() {
  return (
    <div style={{ position: "absolute", left: 0, top: 0, width: 850, height: 649, background: "#fff", overflow: "hidden", filter: "blur(0.45px)" }}>
      {CONFIGS.map(([rect, config], i) => <Panel key={i} rect={rect} config={config} />)}
      {TEXTS.map((x) => (
        <div key={x.t} style={{ position: "absolute", left: x.x, top: x.y, transform: "translateY(-50%)", fontFamily: FONT, fontSize: x.size, fontWeight: x.bold ? 700 : 400, color: x.color || "#111", lineHeight: 1, whiteSpace: "nowrap" }}>{x.t}</div>
      ))}
    </div>
  );
}
